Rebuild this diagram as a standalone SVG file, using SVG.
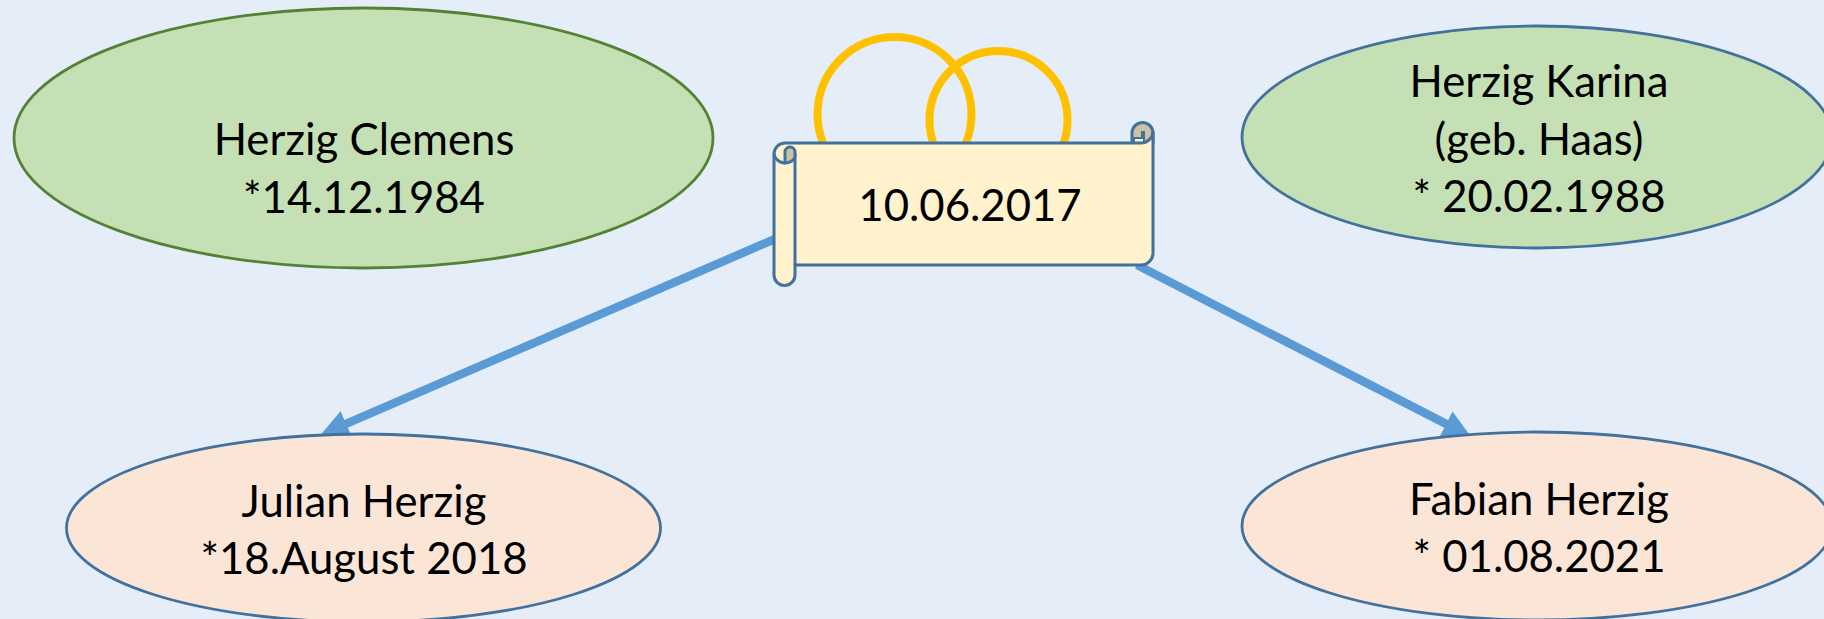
<svg xmlns="http://www.w3.org/2000/svg" width="1824" height="619" viewBox="0 0 1824 619">
<style>
text{font-family:"Lato","Open Sans","Liberation Sans",sans-serif;font-size:43.7px;fill:#000;text-anchor:middle}
.o{stroke:#41719c;stroke-width:2.8}
.g{fill:#c5e0b4}
.p{fill:#fbe5d6}
.s{fill:#fff2cc;stroke:#41719c;stroke-width:3;stroke-linejoin:round}
.d{fill:#cdc2a3;stroke:#41719c;stroke-width:3}
.r{fill:none;stroke:#ffc000;stroke-width:8}
.c{stroke:#5b9bd5;stroke-width:8.500;fill:none}
</style>
<defs>
<marker id="a" markerUnits="userSpaceOnUse" markerWidth="30" markerHeight="30" refX="1" refY="14" orient="auto"><path d="M0 0L28 14L0 28Z" fill="#5b9bd5"/></marker>
</defs>
<rect width="1824" height="619" fill="#e5eef8"/>
<g id="connectors">
<path class="c" d="M775 239L345.300 424.200" marker-end="url(#a)"/>
<path class="c" d="M1137 265L1447 424.400" marker-end="url(#a)"/>
</g>
<g id="rings">
<circle class="r" cx="894.500" cy="114" r="77"/>
<circle class="r" cx="998.500" cy="120" r="69"/>
</g>
<g id="clemens">
<ellipse class="g" cx="363.500" cy="138" rx="349.500" ry="130" stroke="#548235" stroke-width="2.800"/>
<text x="364" y="155">Herzig Clemens</text><text x="364" y="213">*14.12.1984</text>
</g>
<g id="karina">
<ellipse class="g o" cx="1537" cy="137" rx="295" ry="111"/>
<text x="1539" y="97">Herzig Karina</text><text x="1539" y="155">(geb. Haas)</text><text x="1539" y="212">* 20.02.1988</text>
</g>
<g id="julian">
<ellipse class="p o" cx="363.500" cy="528" rx="297" ry="94"/>
<text x="364" y="517">Julian Herzig</text><text x="364" y="574">*18.August 2018</text>
</g>
<g id="fabian">
<ellipse class="p o" cx="1537" cy="526" rx="295" ry="94"/>
<text x="1539" y="515">Fabian Herzig</text><text x="1539" y="572">* 01.08.2021</text>
</g>
<g id="scroll">
<path class="d" d="M1132 142V133A10.500 10.500 0 0 1 1153 133V143Z"/>
<path d="M1134 143V138H1142V132H1144V143Z" fill="#fff2cc" stroke="#41719c" stroke-width="2"/>
<path class="s" d="M785 143H1141A12 12 0 0 0 1153 132V253A12 12 0 0 1 1141 265H795V275A10.500 10.500 0 0 1 774 275V154A11 11 0 0 1 785 143Z"/>
<path class="s" d="M795 265V154"/>
<path class="d" d="M785 163V152A5 5 0 0 1 795 152V156C795 160 790 163 785 163Z"/>
<path d="M774 154A11 11 0 0 0 785 163" fill="none" stroke="#41719c" stroke-width="3"/>
<text x="970" y="221">10.06.2017</text>
</g>
</svg>
